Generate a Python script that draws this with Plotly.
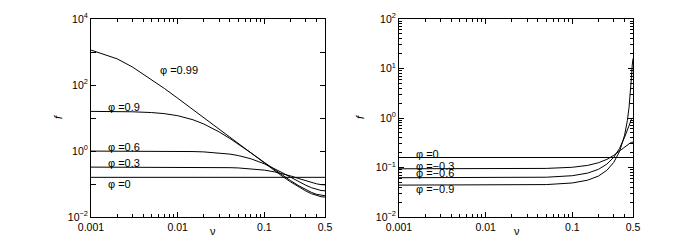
import math
import plotly.graph_objects as go

# ---- data ----
nu_left = [0.001, 0.002, 0.003, 0.005, 0.007, 0.01, 0.015, 0.02, 0.03, 0.04, 0.05,
           0.07, 0.1, 0.13, 0.16, 0.2, 0.25, 0.3, 0.35, 0.4, 0.45, 0.5]
f_p099 = [1144.3, 620.9, 352.3, 147.8, 79.0, 39.72, 17.91, 10.13, 4.525, 2.554, 1.6406,
          0.8441, 0.42076, 0.25476, 0.17315, 0.11632, 0.080374, 0.061402, 0.050622,
          0.044431, 0.041197, 0.040188]
f_p09 = [15.859, 15.692, 15.422, 14.617, 13.556, 11.744, 8.848, 6.578, 3.800, 2.3915,
         1.6224, 0.8778, 0.44988, 0.27543, 0.18824, 0.12694, 0.087928, 0.067259,
         0.055492, 0.048726, 0.045189, 0.044086]
f_p06 = [0.99455, 0.99411, 0.99338, 0.99103, 0.98754, 0.98020, 0.96266, 0.93916, 0.87805,
         0.80502, 0.72761, 0.58040, 0.40894, 0.29552, 0.22197, 0.16089, 0.11702,
         0.091951, 0.077057, 0.068281, 0.063628, 0.062168]
f_p03 = [0.32479, 0.32477, 0.32473, 0.32460, 0.32442, 0.32402, 0.32305, 0.32169, 0.31791,
         0.31277, 0.30644, 0.29090, 0.26324, 0.23430, 0.20709, 0.17594, 0.14601,
         0.12479, 0.11032, 0.10102, 0.095837, 0.094172]
f_p0_left = [0.15915] * 2
nu_flat = [0.001, 0.5]

nu_right = [0.001, 0.01, 0.05, 0.1, 0.15, 0.2, 0.25, 0.3, 0.35, 0.4, 0.43, 0.45, 0.46,
            0.47, 0.48, 0.49, 0.495, 0.5]
f_m03 = [0.094172, 0.094238, 0.095837, 0.10102, 0.11032, 0.12479, 0.14601, 0.17594,
         0.21585, 0.26324, 0.29090, 0.30644, 0.31277, 0.31791, 0.32169, 0.32402,
         0.32460, 0.32479]
f_m06 = [0.06217, 0.062226, 0.063628, 0.068281, 0.077057, 0.091951, 0.11702, 0.16089,
         0.24311, 0.40894, 0.58040, 0.72761, 0.80502, 0.87805, 0.93916, 0.98020,
         0.99103, 0.99469]
f_m09 = [0.044087, 0.044130, 0.045189, 0.048726, 0.055492, 0.067259, 0.087928, 0.12694,
         0.21164, 0.44988, 0.8778, 1.6224, 2.3915, 3.800, 6.578, 11.744, 14.617, 15.915]
f_p0_right = [0.15915] * 2

x_ticks = [0.001, 0.01, 0.1, 0.5]
x_ticktext = ["0.001", "0.01", "0.1", "0.5"]
yl_ticks = [1e-2, 1e-1, 1e0, 1e1, 1e2, 1e3, 1e4]
yl_text = ["10<sup>−2</sup>", "", "10<sup>0</sup>", "", "10<sup>2</sup>", "", "10<sup>4</sup>"]
yr_ticks = [1e-2, 1e-1, 1e0, 1e1, 1e2]
yr_text = ["10<sup>−2</sup>", "10<sup>−1</sup>", "10<sup>0</sup>", "10<sup>1</sup>", "10<sup>2</sup>"]

left_labels = ["φ =0.99", "φ =0.9", "φ =0.6", "φ =0.3", "φ =0"]
left_label_pos = [(0.00593, 285), (0.00149, 21.5), (0.00149, 1.32), (0.00149, 0.433), (0.00149, 0.1)]
right_labels = ["φ =0", "φ =−0.3", "φ =−0.6", "φ =−0.9"]
right_label_pos = [(0.00149, 0.187), (0.00149, 0.107), (0.00149, 0.0774), (0.00149, 0.0368)]

FONT = "Liberation Sans, Arial, sans-serif"
W, H = 692, 242  # page body has an 8px margin inside the 700x250 window
fig = go.Figure()
line = dict(color="black", width=1)

for y in [f_p099, f_p09, f_p06, f_p03]:
    fig.add_trace(go.Scatter(x=nu_left, y=y, mode="lines", line=line, xaxis="x", yaxis="y",
                             showlegend=False, hoverinfo="skip"))
fig.add_trace(go.Scatter(x=nu_flat, y=f_p0_left, mode="lines", line=line, xaxis="x", yaxis="y",
                         showlegend=False, hoverinfo="skip"))
for y in [f_m03, f_m06, f_m09]:
    fig.add_trace(go.Scatter(x=nu_right, y=y, mode="lines", line=line, xaxis="x2", yaxis="y2",
                             showlegend=False, hoverinfo="skip"))
fig.add_trace(go.Scatter(x=nu_flat, y=f_p0_right, mode="lines", line=line, xaxis="x2", yaxis="y2",
                         showlegend=False, hoverinfo="skip"))

TICKFONT = dict(family=FONT, size=10.5, color="black")
ydom = [33 / H, 231 / H]
common_x = dict(type="log", range=[-3, math.log10(0.5)], tickvals=x_ticks, ticktext=x_ticktext,
                ticks="inside", ticklen=5, tickcolor="black", mirror="allticks", automargin=False,
                showline=True, linecolor="black", linewidth=1, showgrid=False, zeroline=False,
                tickfont=TICKFONT,
                minor=dict(dtick="D1", ticks="inside", ticklen=3, tickcolor="black", showgrid=False))
common_y = dict(type="log", ticks="inside", ticklen=5, tickcolor="black", mirror="allticks",
                automargin=False,
                showline=True, linecolor="black", linewidth=1, showgrid=False, zeroline=False,
                tickfont=TICKFONT)

fig.update_layout(
    width=W, height=H, margin=dict(l=0, r=0, t=0, b=0, autoexpand=False),
    paper_bgcolor="white", plot_bgcolor="white",
    xaxis=dict(domain=[83 / W, 317 / W], anchor="y", **common_x),
    yaxis=dict(domain=ydom, anchor="x", range=[-2, 4], tickvals=yl_ticks, ticktext=yl_text,
               **common_y),
    xaxis2=dict(domain=[391 / W, 625 / W], anchor="y2", **common_x),
    yaxis2=dict(domain=ydom, anchor="x2", range=[-2, 2], tickvals=yr_ticks, ticktext=yr_text,
                minor=dict(dtick="D1", ticks="inside", ticklen=3, tickcolor="black", showgrid=False),
                **common_y),
)

annots = []
# log axes: annotation positions are given in log10 units
for t, (x, y) in zip(left_labels, left_label_pos):
    annots.append(dict(x=math.log10(x), y=math.log10(y), xref="x", yref="y", text=t,
                       showarrow=False, xanchor="left", yanchor="middle",
                       font=dict(family=FONT, size=11, color="black")))
for t, (x, y) in zip(right_labels, right_label_pos):
    annots.append(dict(x=math.log10(x), y=math.log10(y), xref="x2", yref="y2", text=t,
                       showarrow=False, xanchor="left", yanchor="middle",
                       font=dict(family=FONT, size=11, color="black")))
# axis titles
for xc in [200 / W, 514 / W]:
    annots.append(dict(x=xc, y=11 / H, xref="paper", yref="paper", text="ν",
                       showarrow=False, font=dict(family=FONT, size=11, color="black")))
for xc in [42 / W, 352 / W]:
    annots.append(dict(x=xc, y=133 / H, xref="paper", yref="paper", text="<i>f</i>",
                       textangle=-90, showarrow=False, font=dict(family=FONT, size=11, color="black")))
fig.update_layout(annotations=annots)

fig.write_html("out.html")
